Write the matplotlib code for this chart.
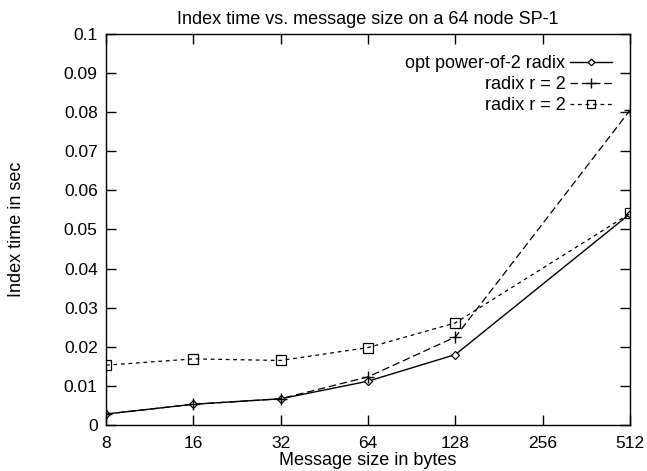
import matplotlib
matplotlib.use("Agg")
import matplotlib.pyplot as plt
from matplotlib.ticker import NullLocator

plt.rcParams["font.family"] = ["Liberation Sans", "DejaVu Sans"]

sizes = [8, 16, 32, 64, 128, 512]
opt_radix = [0.0028, 0.0053, 0.0067, 0.0112, 0.0180, 0.0540]
radix_plus = [0.0028, 0.0053, 0.0067, 0.0123, 0.0225, 0.0805]
radix_square = [0.0153, 0.0169, 0.0165, 0.0198, 0.0261, 0.0541]
xticks = [8, 16, 32, 64, 128, 256, 512]
yticks = [0, 0.01, 0.02, 0.03, 0.04, 0.05, 0.06, 0.07, 0.08, 0.09, 0.1]

fig = plt.figure(figsize=(6.47, 4.71), dpi=100)
ax = fig.add_axes([0.1638, 0.0977, 0.8099, 0.8301])

ax.plot(sizes, opt_radix, color="black", lw=1.0, ls="-", marker="D", ms=4.2,
        mfc="white", mec="black", mew=0.9, label="opt power-of-2 radix")
ax.plot(sizes, radix_plus, color="black", lw=0.9, ls=(0, (6, 3)), marker="+", ms=9,
        mew=1.0, label="radix r = 2")
ax.plot(sizes, radix_square, color="black", lw=0.9, ls=(0, (3, 3)), marker="s", ms=7,
        mfc="none", mec="black", mew=0.9, label="radix r = 2")

ax.set_xscale("log", base=2)
ax.set_xlim(8, 512)
ax.set_ylim(0, 0.1)
ax.set_xticks(xticks)
ax.set_xticklabels([str(v) for v in xticks])
ax.xaxis.set_minor_locator(NullLocator())
ax.set_yticks(yticks)
ax.set_yticklabels(["0"] + [f"{v:g}" for v in yticks[1:]])
ax.tick_params(direction="in", top=True, right=True, length=7, width=1.0, labelsize=12.5)
ax.tick_params(axis="y", pad=6)
ax.tick_params(axis="x", pad=8)
for s in ax.spines.values():
    s.set_linewidth(1.0)

ax.set_title("Index time vs. message size on a 64 node SP-1", fontsize=13, pad=7)
ax.set_xlabel("Message size in bytes", fontsize=13)
ax.set_ylabel("Index time in sec", fontsize=13)
ax.xaxis.set_label_coords(0.5, -0.069)
ax.yaxis.set_label_coords(-0.155, 0.5)

leg = ax.legend(loc="upper right", bbox_to_anchor=(0.9656, 0.946), frameon=False,
                markerfirst=False, fontsize=13, handlelength=2.33, labelspacing=0.22,
                handletextpad=0.25, borderpad=0, borderaxespad=0, markerscale=0.8)

fig.savefig("out.png", dpi=100)
